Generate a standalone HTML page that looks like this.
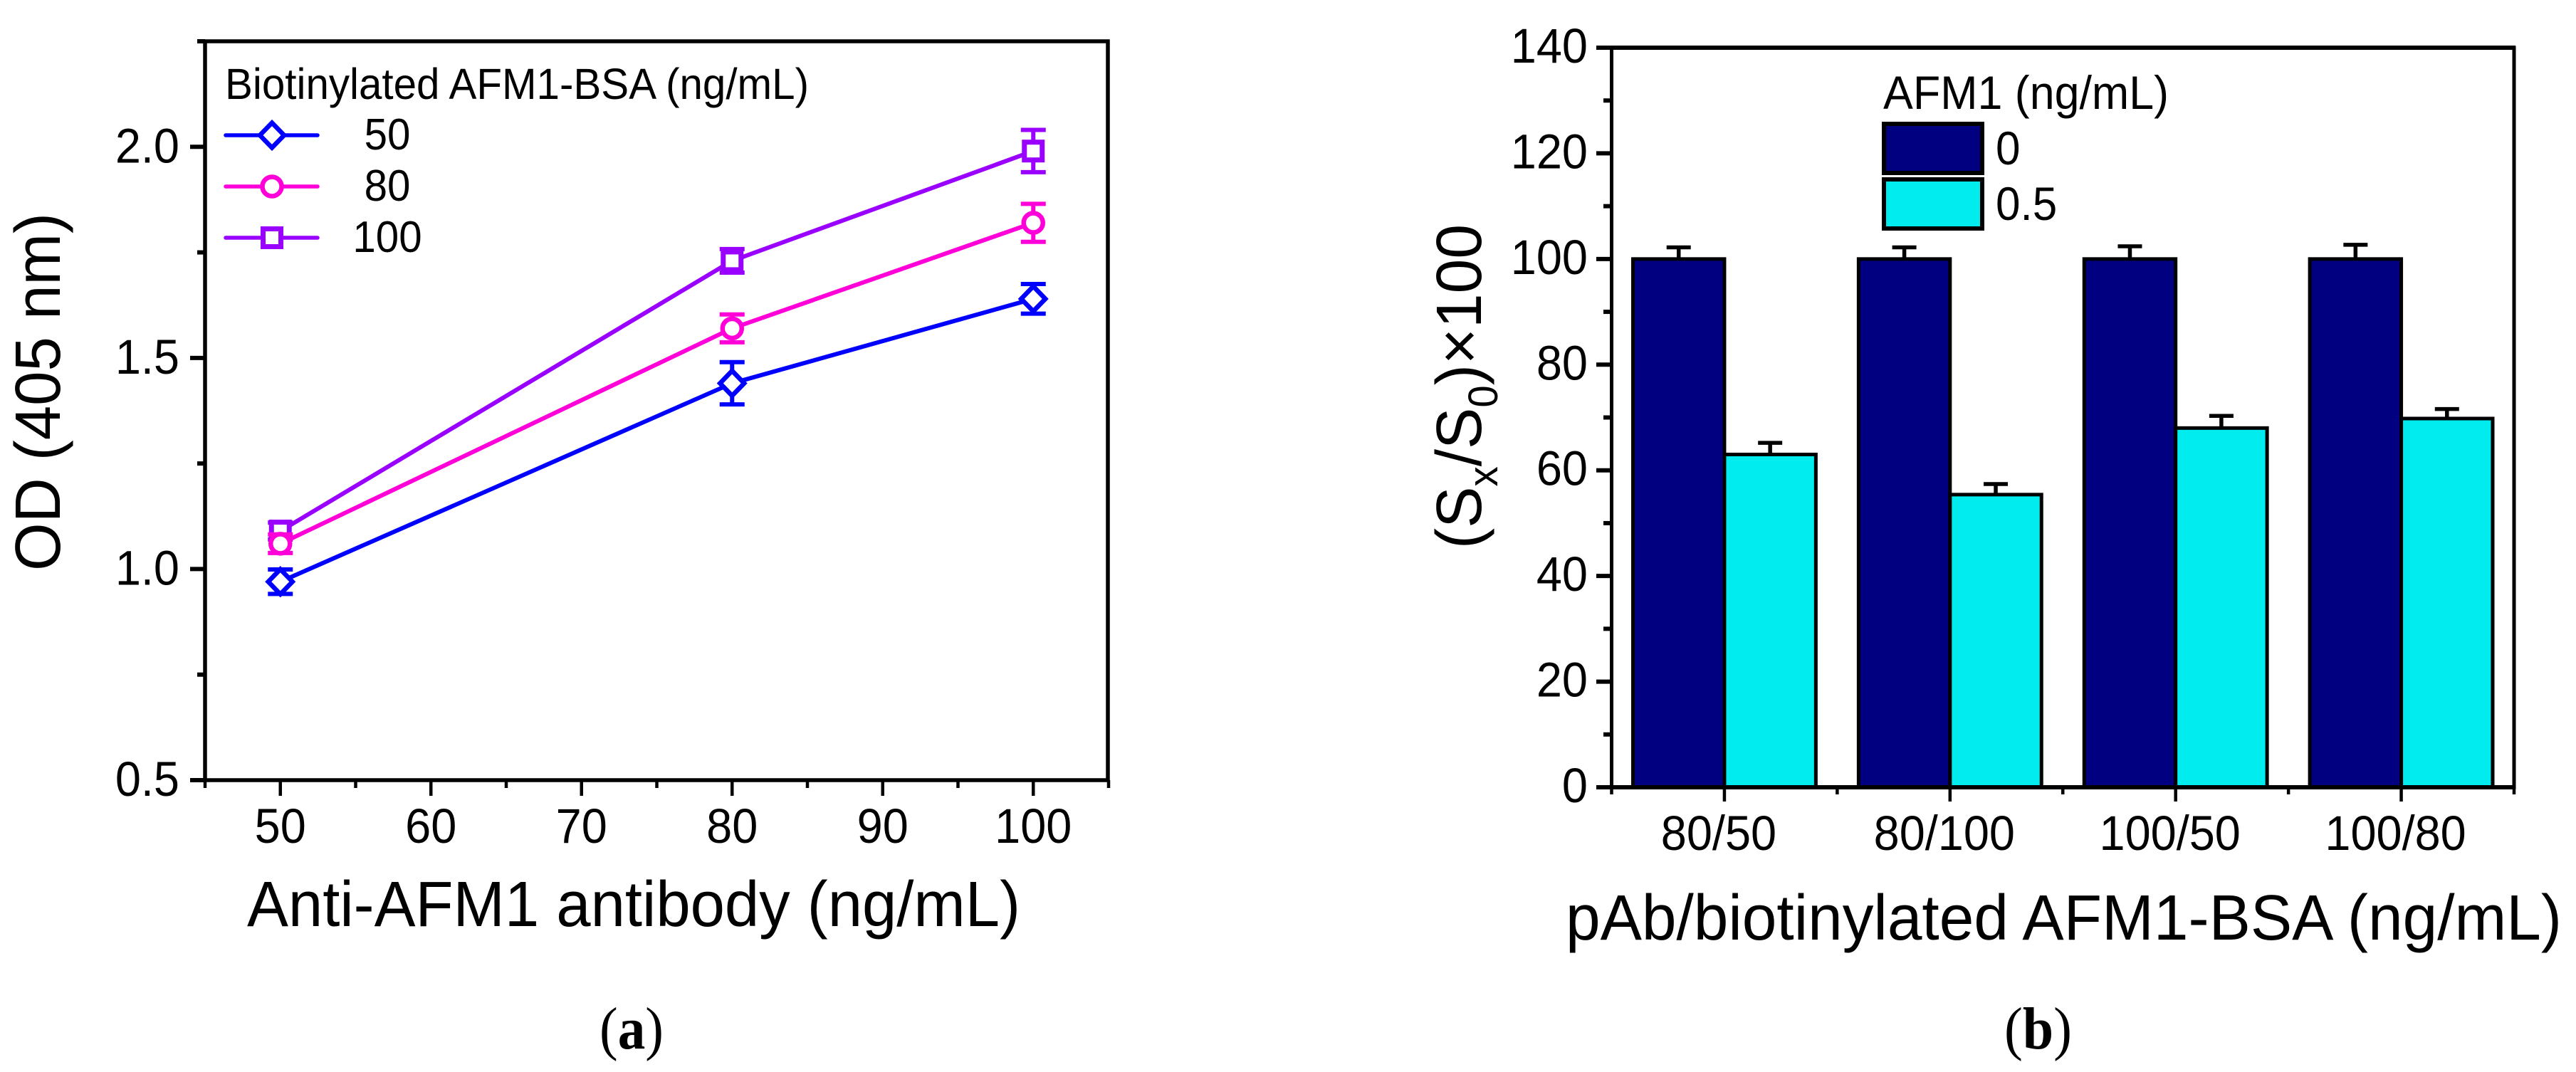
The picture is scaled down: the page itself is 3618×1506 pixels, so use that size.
<!DOCTYPE html>
<html lang="en">
<head>
<meta charset="utf-8">
<title>AFM1 ELISA optimisation charts</title>
<style>
html,body{margin:0;padding:0;background:#fff;}
svg{display:block;}
text{font-family:"Liberation Sans",Arial,sans-serif;fill:#000;}
</style>
</head>
<body>
<svg id="fig" xmlns="http://www.w3.org/2000/svg" width="3618" height="1506" viewBox="0 0 3618 1506">
  <rect x="0" y="0" width="3618" height="1506" fill="#fff"/>
  <g id="panel-a">
    <text transform="translate(84,802) rotate(-90)" font-size="90" textLength="503" lengthAdjust="spacingAndGlyphs">OD (405 nm)</text>
    <text x="347" y="1301" font-size="90" textLength="1086" lengthAdjust="spacingAndGlyphs">Anti-AFM1 antibody (ng/mL)</text>
    <text x="316" y="139" font-size="61" textLength="820" lengthAdjust="spacingAndGlyphs">Biotinylated AFM1-BSA (ng/mL)</text>
    <text x="842" y="1473" font-size="84" textLength="90" lengthAdjust="spacingAndGlyphs" style="font-family:'Liberation Serif',serif">(<tspan font-weight="bold">a</tspan>)</text>
  </g>
  <g id="panel-b">
    <text transform="translate(2080,771) rotate(-90)" font-size="90" textLength="456" lengthAdjust="spacingAndGlyphs">(S<tspan font-size="58" dy="23">x</tspan><tspan dy="-23">/S</tspan><tspan font-size="58" dy="23">0</tspan><tspan dy="-23">)×100</tspan></text>
    <text x="2199" y="1320" font-size="90" textLength="1399" lengthAdjust="spacingAndGlyphs">pAb/biotinylated AFM1-BSA (ng/mL)</text>
    <text x="2645" y="153" font-size="66" textLength="401" lengthAdjust="spacingAndGlyphs">AFM1 (ng/mL)</text>
    <text x="2815" y="1473" font-size="84" textLength="95" lengthAdjust="spacingAndGlyphs" style="font-family:'Liberation Serif',serif">(<tspan font-weight="bold">b</tspan>)</text>
  </g>
</svg>
<script>
// ---- Panel (a) data ----
const antibodyDoses = [50, 80, 100];
const od50 = [0.97, 1.44, 1.64];
const od80 = [1.06, 1.57, 1.82];
const od100 = [1.09, 1.73, 1.99];
const err50 = [0.029, 0.05, 0.035];
const err80 = [0.022, 0.033, 0.045];
const err100 = [0.02, 0.028, 0.05];
const seriesLabelsA = ['50', '80', '100'];
const yTicksA = [0.5, 1.0, 1.5, 2.0];
const yTickLabelsA = ['0.5', '1.0', '1.5', '2.0'];
const yMinorTicksA = [0.75, 1.25, 1.75, 2.25];
const xTicksA = [50, 60, 70, 80, 90, 100];
const xTickLabelsA = ['50', '60', '70', '80', '90', '100'];
const xMinorTicksA = [45, 55, 65, 75, 85, 95, 105];

// ---- Panel (b) data ----
const categoriesB = ['80/50', '80/100', '100/50', '100/80'];
const signalAfm0 = [100, 100, 100, 100];
const signalAfm05 = [63, 55.4, 68, 69.8];
const errAfm0 = [2.2, 2.2, 2.4, 2.7];
const errAfm05 = [2.2, 2, 2.3, 1.8];
const seriesLabelsB = ['0', '0.5'];
const yTicksB = [0, 20, 40, 60, 80, 100, 120, 140];
const yTickLabelsB = ['0', '20', '40', '60', '80', '100', '120', '140'];
const yMinorTicksB = [10, 30, 50, 70, 90, 110, 130];
const xMinorTicksB = [0.5, 1.5, 2.5, 3.5, 4.5];

const NS = 'http://www.w3.org/2000/svg';
const BLUE = '#0000ff', MAGENTA = '#ff00d8', PURPLE = '#9900ff', NAVY = '#000080', CYAN = '#00ecef';

function make(parent, tag, attrs, text) {
  const el = document.createElementNS(NS, tag);
  for (const k in attrs) el.setAttribute(k, attrs[k]);
  if (text !== undefined) el.textContent = text;
  parent.appendChild(el);
  return el;
}

function condensedText(parent, x, y, size, anchor, label) {
  return make(parent, 'text', {transform: 'translate(' + x + ' ' + y + ') scale(0.94 1)', 'font-size': size, 'text-anchor': anchor}, label);
}

// Axis functions
const xA = v => 288 + (v - 45) * (1557 - 288) / 60;
const yA = v => 1096 - (v - 0.5) * (1096 - 58) / 1.75;
const xB = v => 2263.5 + (v - 0.5) * (3531 - 2263.5) / 4;
const yB = v => 1106 - v * (1106 - 67) / 140;

const panelA = document.getElementById('panel-a');
const panelB = document.getElementById('panel-b');

function drawMarker(parent, kind, cx, cy, color) {
  let m;
  if (kind === 'diamond') {
    m = make(parent, 'path', {d: 'M' + cx + ' ' + (cy - 17.5) + 'L' + (cx + 17) + ' ' + cy + 'L' + cx + ' ' + (cy + 17.5) + 'L' + (cx - 17) + ' ' + cy + 'Z', fill: '#fff', stroke: color, 'stroke-width': 6.5});
  } else if (kind === 'circle') {
    m = make(parent, 'circle', {cx: cx, cy: cy, r: 13.5, fill: '#fff', stroke: color, 'stroke-width': 6.5});
  } else {
    m = make(parent, 'rect', {x: cx - 12.5, y: cy - 12.5, width: 25, height: 25, fill: '#fff', stroke: color, 'stroke-width': 7});
  }
  return m;
}

// ---- Panel (a) axes ----
const frameA = make(panelA, 'rect', {x: xA(45), y: yA(2.25), width: xA(105) - xA(45) - 1, height: yA(0.5) - yA(2.25), fill: 'none', stroke: '#000', 'stroke-width': 5.5});



yTicksA.forEach((v, i) => {
  const t = make(panelA, 'line', {x1: 267, x2: 288, y1: yA(v), y2: yA(v), stroke: '#000', 'stroke-width': 6});
  
  
  const l = condensedText(panelA, 252, yA(v) + 22, 69, 'end', yTickLabelsA[i]);
  
  
});
yMinorTicksA.forEach(v => {
  const t = make(panelA, 'line', {x1: 277, x2: 288, y1: yA(v), y2: yA(v), stroke: '#000', 'stroke-width': 6});
  
  
});
xTicksA.forEach((v, i) => {
  const t = make(panelA, 'line', {x1: xA(v), x2: xA(v), y1: 1096, y2: 1118, stroke: '#000', 'stroke-width': 4.5});
  
  
  const l = condensedText(panelA, xA(v), 1184, 69, 'middle', xTickLabelsA[i]);
  
  
});
xMinorTicksA.forEach(v => {
  const t = make(panelA, 'line', {x1: xA(v), x2: xA(v), y1: 1096, y2: 1107, stroke: '#000', 'stroke-width': 4.5});
  
  
});

// ---- Panel (a) series ----
function drawLineSeries(values, errors, color, kind, name) {
  const g = make(panelA, 'g', {});
  
  
  const pts = values.map((v, i) => xA(antibodyDoses[i]) + ',' + yA(v)).join(' ');
  const line = make(g, 'polyline', {points: pts, fill: 'none', stroke: color, 'stroke-width': 6, 'stroke-linejoin': 'round'});
  
  
  values.forEach((v, i) => {
    const cx = xA(antibodyDoses[i]);
    const top = yA(v + errors[i]);
    const bot = yA(v - errors[i]);
    const eb = make(g, 'path', {d: 'M' + (cx - 17.5) + ' ' + top + 'H' + (cx + 17.5) + 'M' + cx + ' ' + top + 'V' + bot + 'M' + (cx - 17.5) + ' ' + bot + 'H' + (cx + 17.5), fill: 'none', stroke: color, 'stroke-width': 6});
    
    
    const m = drawMarker(g, kind, cx, yA(v), color);
    
    
  });
}
drawLineSeries(od50, err50, BLUE, 'diamond', 'series-50');
drawLineSeries(od100, err100, PURPLE, 'square', 'series-100');
drawLineSeries(od80, err80, MAGENTA, 'circle', 'series-80');

// ---- Panel (a) legend ----
const legendColorsA = [BLUE, MAGENTA, PURPLE];
const legendKindsA = ['diamond', 'circle', 'square'];
seriesLabelsA.forEach((label, i) => {
  const y = 190 + i * 72;
  const ln = make(panelA, 'line', {x1: 317, x2: 446, y1: y, y2: y, stroke: legendColorsA[i], 'stroke-width': 5.5, 'stroke-linecap': 'round'});
  
  
  const m = drawMarker(panelA, legendKindsA[i], 382, y, legendColorsA[i]);
  
  
  const t = condensedText(panelA, 544, y + 20, 62, 'middle', label);
  
  
});

// ---- Panel (b) bars ----
const barWidth = xB(1) - xB(0.5) - 30;
function drawBars(values, errors, color, offset, name) {
  values.forEach((v, i) => {
    const c = xB(i + 1);
    const left = c + offset * barWidth;
    const cx = left + barWidth / 2;
    const top = yB(v + errors[i]);
    const eb = make(panelB, 'path', {d: 'M' + (cx - 17) + ' ' + top + 'H' + (cx + 17) + 'M' + cx + ' ' + top + 'V' + yB(v), fill: 'none', stroke: '#000', 'stroke-width': 5.5});
    
    
    const r = make(panelB, 'rect', {x: left, y: yB(v), width: barWidth, height: yB(0) - yB(v), fill: color, stroke: '#000', 'stroke-width': 5});
    
    
  });
}
drawBars(signalAfm0, errAfm0, NAVY, -1, 'afm1-0');
drawBars(signalAfm05, errAfm05, CYAN, 0, 'afm1-0-5');

// ---- Panel (b) axes ----
const frameB = make(panelB, 'rect', {x: xB(0.5), y: yB(140), width: xB(4.5) - xB(0.5), height: yB(0) - yB(140), fill: 'none', stroke: '#000', 'stroke-width': 5});


const topLineB = make(panelB, 'line', {x1: 2243, x2: xB(4.5) + 2, y1: yB(140), y2: yB(140), stroke: '#000', 'stroke-width': 6});


const baseLineB = make(panelB, 'line', {x1: 2243, x2: xB(4.5) + 2, y1: yB(0), y2: yB(0), stroke: '#000', 'stroke-width': 6});



yTicksB.forEach((v, i) => {
  const t = make(panelB, 'line', {x1: 2242, x2: 2263, y1: yB(v), y2: yB(v), stroke: '#000', 'stroke-width': 6});
  
  
  const l = condensedText(panelB, 2230, yB(v) + 21, 69, 'end', yTickLabelsB[i]);
  
  
});
yMinorTicksB.forEach(v => {
  const t = make(panelB, 'line', {x1: 2252, x2: 2263, y1: yB(v), y2: yB(v), stroke: '#000', 'stroke-width': 6});
  
  
});
categoriesB.forEach((label, i) => {
  const x = xB(i + 1);
  const t = make(panelB, 'line', {x1: x, x2: x, y1: 1106, y2: 1126, stroke: '#000', 'stroke-width': 4.5});
  
  
  const l = condensedText(panelB, x - 8, 1194, 69, 'middle', label);
  
  
});
xMinorTicksB.forEach(v => {
  const t = make(panelB, 'line', {x1: xB(v), x2: xB(v), y1: 1106, y2: 1116, stroke: '#000', 'stroke-width': 4.5});
  
  
});

// ---- Panel (b) legend ----
const legendColorsB = [NAVY, CYAN];
seriesLabelsB.forEach((label, i) => {
  const y = 174 + i * 78;
  const s = make(panelB, 'rect', {x: 2646, y: y, width: 138, height: 69, fill: legendColorsB[i], stroke: '#000', 'stroke-width': 6});
  
  
  const t = condensedText(panelB, 2803, y + 57, 66, 'start', label);
  
  
});
</script>
</body>
</html>
